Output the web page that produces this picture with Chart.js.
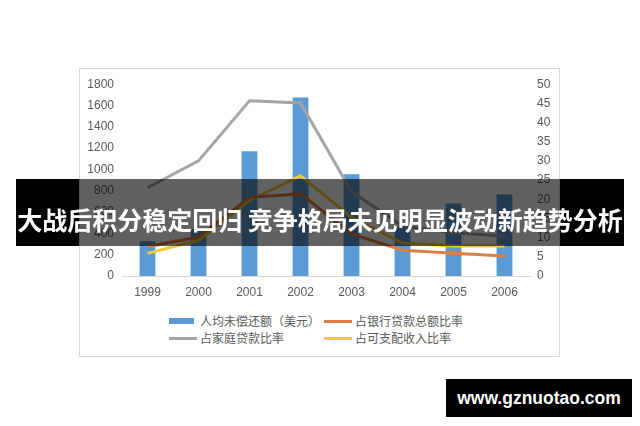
<!DOCTYPE html>
<html>
<head>
<meta charset="utf-8">
<script src="https://cdn.jsdelivr.net/npm/chart.js@4.4.0/dist/chart.umd.min.js"></script>
<style>
  html, body { margin: 0; padding: 0; background: #fff; }
  body { width: 640px; height: 426px; position: relative; overflow: hidden; }
  #frame { position: absolute; left: 79px; top: 68px; width: 481px; height: 289px; box-sizing: border-box; border: 1px solid #d9d9d9; }
  #box { position: absolute; left: 0; top: 0; width: 478px; height: 240px; }
  .leg { position: absolute; font-family: "Noto Sans CJK SC", sans-serif; font-size: 12px; color: #595959; line-height: 14px; white-space: nowrap; }
  .sym { position: absolute; }
  .black { position: absolute; background: #000; }
  #shade { position: absolute; left: 79px; top: 179px; width: 481px; height: 67px; background: rgba(0,0,0,0.62); }
  #title { position: absolute; left: 0; width: 640px; top: 204px; text-align: center; color: #fff; font-family: "Noto Sans CJK SC", sans-serif; font-weight: bold; font-size: 25px; line-height: 30px; white-space: nowrap; }
  #mark { position: absolute; left: 446px; top: 379px; width: 186px; height: 38px; background: #000; color: #fff; font-family: "Liberation Sans", Arial, sans-serif; font-weight: bold; font-size: 17.5px; line-height: 38px; text-align: center; }
</style>
</head>
<body>
<div id="frame">
  <div id="box"><canvas id="chart"></canvas></div>
</div>
<div id="legend"></div>
<div class="black" style="left:16px;top:179px;width:63px;height:67px;"></div>
<div class="black" style="left:560px;top:179px;width:64px;height:67px;"></div>
<div id="shade"></div>
<div id="title">大战后积分稳定回归 竞争格局未见明显波动新趋势分析</div>
<div id="mark">www.gznuotao.com</div>
<script>
var years = ['1999', '2000', '2001', '2002', '2003', '2004', '2005', '2006'];
var debtLabel = '人均未偿还额（美元）';
var bankLabel = '占银行贷款总额比率';
var householdLabel = '占家庭贷款比率';
var incomeLabel = '占可支配收入比率';
var debtPerCapita = [325, 440, 1170, 1675, 955, 465, 680, 765];
var bankRatio = [7.6, 10.2, 20.5, 21.4, 11, 6.7, 5.9, 5.2];
var householdRatio = [23, 30, 45.7, 45.1, 22, 13, 11.3, 10.4];
var incomeRatio = [5.9, 9.3, 19.7, 26.1, 15.3, 8.6, 7.8, 7.8];

var blue = '#5b9bd5', orange = '#e07d45', gray = '#a5a5a5', yellow = '#f5c73a';
var tickFont = { family: 'Liberation Sans', size: 12 };

function lineSet(label, data, color) {
    return {
        type: 'line', label: label, data: data, yAxisID: 'y1',
        borderColor: color, backgroundColor: color, borderWidth: 3,
        pointRadius: 0, tension: 0, order: 0
    };
}

function plain(value) {
    return String(value);
}

new Chart(document.getElementById('chart'), {
    type: 'bar',
    data: {
        labels: years,
        datasets: [
            { label: debtLabel, data: debtPerCapita, backgroundColor: blue, yAxisID: 'y',
              barPercentage: 0.31, categoryPercentage: 1, order: 1 },
            lineSet(bankLabel, bankRatio, orange),
            lineSet(householdLabel, householdRatio, gray),
            lineSet(incomeLabel, incomeRatio, yellow)
        ]
    },
    options: {
        responsive: true,
        maintainAspectRatio: false,
        animation: false,
        layout: { padding: { top: 14, bottom: 0, left: 0, right: 0 } },
        plugins: { legend: { display: false }, tooltip: { enabled: false } },
        scales: {
            x: {
                grid: { display: false, drawTicks: false },
                border: { display: true, color: '#d9d9d9', width: 1 },
                ticks: { color: '#595959', font: tickFont, padding: 9 },
                afterFit: function(s) { s.height = 33; }
            },
            y: {
                position: 'left', min: 0, max: 1800,
                grid: { display: false, drawTicks: false },
                border: { display: false },
                ticks: { stepSize: 200, color: '#595959', font: tickFont, padding: 8, callback: plain },
                afterFit: function(s) { s.width = 42; }
            },
            y1: {
                position: 'right', min: 0, max: 50,
                grid: { display: false, drawTicks: false },
                border: { display: false },
                ticks: { stepSize: 5, color: '#595959', font: tickFont, padding: 7, callback: plain },
                afterFit: function(s) { s.width = 28; }
            }
        }
    }
});

// legend laid out 2 x 2 like the original
var legendItems = [
    { text: debtLabel, color: blue, bar: true, x: 169, y: 321 },
    { text: bankLabel, color: orange, bar: false, x: 324, y: 321 },
    { text: householdLabel, color: gray, bar: false, x: 169, y: 338 },
    { text: incomeLabel, color: yellow, bar: false, x: 324, y: 338 }
];
var legend = document.getElementById('legend');
legendItems.forEach(function(item) {
    var sym = document.createElement('div');
    sym.className = 'sym';
    var h = item.bar ? 6 : 3;
    sym.style.left = item.x + 'px';
    sym.style.top = (item.y - h / 2) + 'px';
    sym.style.width = (item.bar ? 25 : 28) + 'px';
    sym.style.height = h + 'px';
    sym.style.background = item.color;
    legend.appendChild(sym);
    var t = document.createElement('div');
    t.className = 'leg';
    t.style.left = (item.x + 31) + 'px';
    t.style.top = (item.y - 7) + 'px';
    t.textContent = item.text;
    legend.appendChild(t);
});
</script>
</body>
</html>
